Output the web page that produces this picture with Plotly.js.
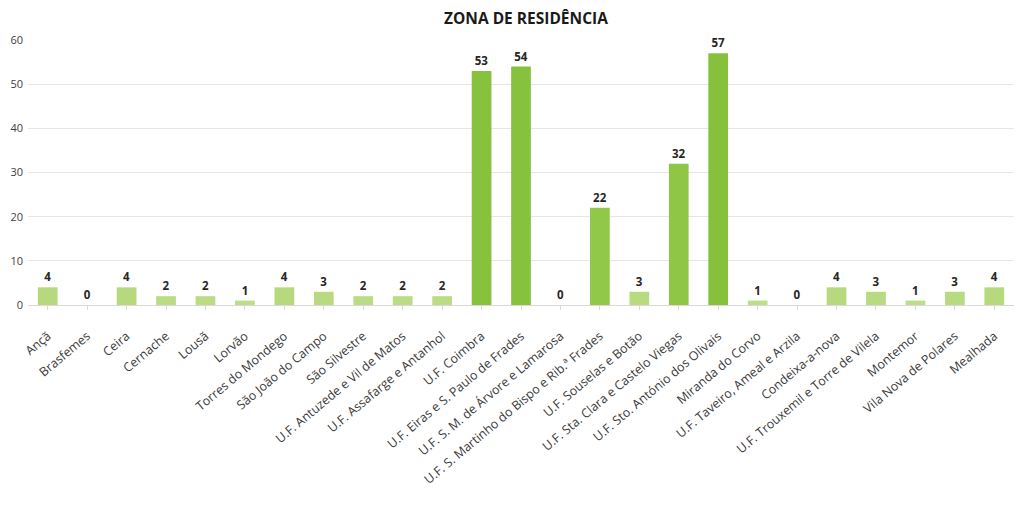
<!DOCTYPE html>
<html>
<head>
<meta charset="utf-8">
<script src="https://cdn.plot.ly/plotly-3.0.1.min.js"></script>
<style>html,body{margin:0;padding:0;background:#fff;}#chart{width:1016px;height:520px;}</style>
</head>
<body>
<div id="chart"></div>
<script>
const categories = [
  "Ançã", "Brasfemes", "Ceira", "Cernache", "Lousã", "Lorvão", "Torres do Mondego",
  "São João do Campo", "São Silvestre", "U.F. Antuzede e Vil de Matos",
  "U.F. Assafarge e Antanhol", "U.F. Coimbra", "U.F. Eiras e S. Paulo de Frades",
  "U.F. S. M. de Árvore e Lamarosa", "U.F. S. Martinho do Bispo e Rib.ª Frades",
  "U.F. Souselas e Botão", "U.F. Sta. Clara e Castelo Viegas",
  "U.F. Sto. António dos Olivais", "Miranda do Corvo", "U.F. Taveiro, Ameal e Arzila",
  "Condeixa-a-nova", "U.F. Trouxemil e Torre de Vilela", "Montemor",
  "Vila Nova de Polares", "Mealhada"
];
const values = [4, 0, 4, 2, 2, 1, 4, 3, 2, 2, 2, 53, 54, 0, 22, 3, 32, 57, 1, 0, 4, 3, 1, 3, 4];
const yTicks = [0, 10, 20, 30, 40, 50, 60];

const trace = {
  type: 'bar',
  x: categories,
  y: values,
  text: values.map(String),
  textposition: 'outside',
  cliponaxis: false,
  textfont: {family: 'Open Sans, sans-serif', size: 11.5, color: '#262626', weight: 700},
  marker: {
    color: values,
    colorscale: [[0, '#c0de8c'], [0.3, '#94c94c'], [1, '#86c13d']],
    cmin: 0, cmax: 57,
    line: {width: 0}
  },
  hoverinfo: 'x+y'
};

const layout = {
  width: 1016, height: 520,
  margin: {l: 28, r: 2, t: 40, b: 215},
  paper_bgcolor: '#ffffff', plot_bgcolor: '#ffffff',
  bargap: 0.5,
  showlegend: false,
  title: {
    text: '<b>ZONA DE RESIDÊNCIA</b>',
    xref: 'paper', x: 0.505, xanchor: 'center', y: 0.965, yanchor: 'middle',
    font: {family: 'Open Sans, sans-serif', size: 15.5, color: '#1a1a1a'}
  },
  font: {family: 'Open Sans, sans-serif', color: '#595959'},
  xaxis: {
    tickangle: -40,
    tickfont: {size: 12.5, color: '#3a3a3a'},
    showgrid: false,
    showline: true, linecolor: '#d9d9d9', linewidth: 1,
    ticks: 'outside', ticklen: 4, tickcolor: '#d9d9d9',
    ticklabelstandoff: 14,
    automargin: false
  },
  yaxis: {
    range: [0, 60],
    tickvals: yTicks,
    ticktext: yTicks.map(String),
    tickfont: {size: 11, color: '#404040'},
    showgrid: true, gridcolor: '#e6e6e6', gridwidth: 1,
    zeroline: false, showline: false,
    ticklabelstandoff: 4,
    automargin: false
  }
};

Plotly.newPlot('chart', [trace], layout, {displayModeBar: false, staticPlot: true});
</script>
</body>
</html>
